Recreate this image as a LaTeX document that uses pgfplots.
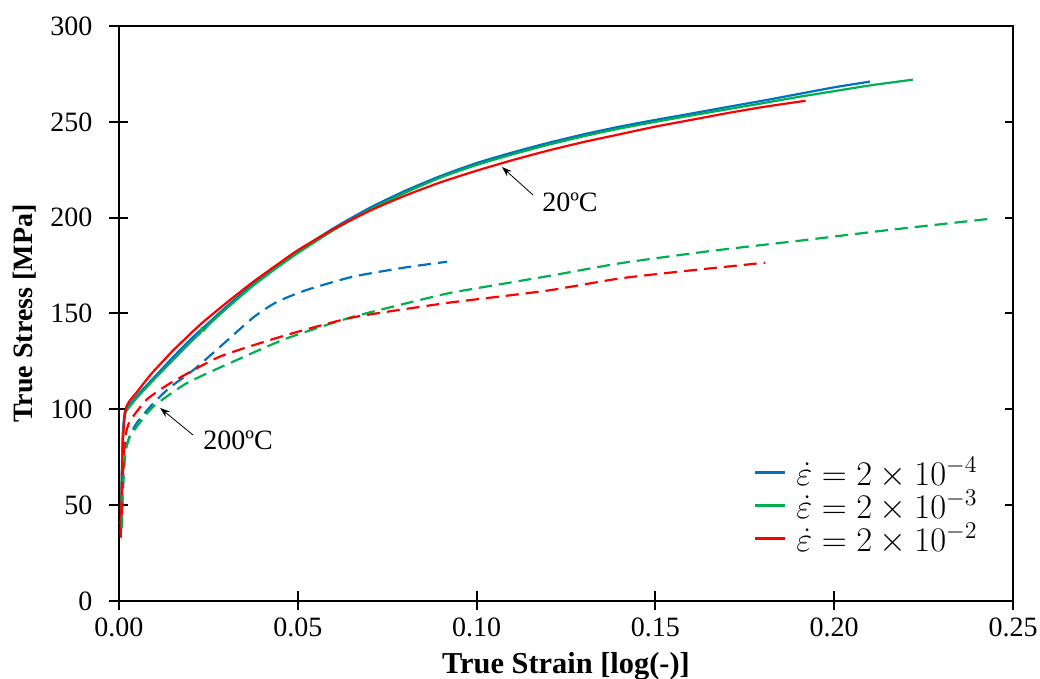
\documentclass[border=0pt]{standalone}
\usepackage{pgfplots}
\pgfplotsset{compat=1.18}
\usepackage{fontspec}
\setmainfont{Liberation Serif}
\usetikzlibrary{arrows.meta,calc}
\definecolor{xblue}{RGB}{0,112,192}
\definecolor{xgreen}{RGB}{0,176,80}
\definecolor{xred}{RGB}{255,0,0}
\newcommand{\fs}{\fontsize{14}{16.8}\selectfont}
\begin{document}
\begin{tikzpicture}
\begin{axis}[
  scale only axis, width=447pt, height=287.5pt,
  xmin=0, xmax=0.25, ymin=0, ymax=300,
  xtick={0,0.05,...,0.25}, ytick={0,50,...,300},
  xticklabel style={/pgf/number format/.cd, fixed, fixed zerofill, precision=2},
  yticklabel style={xshift=-5pt},
  /pgf/number format/assume math mode=true,
  tick label style={font=\fs},
  xtick pos=bottom, ytick pos=left,
  tick align=center, major tick length=9.5pt,
  axis line style={line width=1pt}, tick style={line width=1pt, black},
  xlabel={\textbf{True Strain [log(-)]}}, ylabel={\textbf{True Stress [MPa]}},
  xlabel style={font=\fontsize{15.2}{17}\selectfont, yshift=-1pt},
  ylabel style={font=\fs, yshift=0pt},
  legend style={at={(0.972,0.265)}, anchor=north east, draw=none, fill=none, font=\fontsize{16.5}{18}\selectfont, row sep=-3pt, legend cell align=left},
  legend image code/.code={\draw[#1, line width=1.2pt] (0pt,0pt) -- (15pt,0pt); \path (18pt,0pt);},
  every axis plot/.append style={line width=1.1pt, line join=round, smooth, tension=0.35},
  clip=false,
]
% 20C solid
\addplot[xblue] coordinates {(0.0005,40)(0.001,85)(0.0015,97)(0.002,100)(0.005,107)(0.01,117)(0.015,127)(0.02,136.5)(0.025,145)(0.03,153.5)(0.0375,165.5)(0.045,176)(0.05,182.5)(0.06,194.5)(0.07,205)(0.08,214)(0.09,221.8)(0.10,228.5)(0.11,234)(0.12,239)(0.13,243.5)(0.14,247.5)(0.15,251)(0.16,254.3)(0.17,257.7)(0.18,261)(0.19,264.5)(0.20,268)(0.21,271)};
\addlegendentry{$\dot{\varepsilon} = 2 \times 10^{-4}$}
\addplot[xgreen] coordinates {(0.0005,35)(0.001,80)(0.0015,95)(0.002,99)(0.005,106)(0.01,116)(0.015,125.5)(0.02,135)(0.0228,140)(0.0232,142.5)(0.0236,141)(0.025,144)(0.03,152.5)(0.0375,164.5)(0.045,175)(0.05,181.5)(0.06,193.5)(0.07,204)(0.08,213)(0.09,221)(0.10,227.5)(0.11,233)(0.12,238)(0.13,242.5)(0.14,246.5)(0.15,250)(0.16,253.3)(0.17,256.5)(0.18,259.7)(0.19,263)(0.20,266)(0.21,269)(0.222,272)};
\addlegendentry{$\dot{\varepsilon} = 2 \times 10^{-3}$}
\addplot[xred] coordinates {(0.0005,33)(0.0008,60)(0.001,80)(0.0015,95)(0.002,101)(0.003,104.5)(0.005,109)(0.0075,115)(0.0095,119.5)(0.012,124.5)(0.015,130.5)(0.02,139.5)(0.0235,145.5)(0.03,155.5)(0.0375,166.5)(0.045,176.5)(0.05,183)(0.06,194)(0.07,203.5)(0.08,211.5)(0.09,218.5)(0.10,224.5)(0.11,230)(0.12,235)(0.13,239.5)(0.14,243.5)(0.15,247.5)(0.16,251)(0.17,254.5)(0.18,257.7)(0.192,261)};
\addlegendentry{$\dot{\varepsilon} = 2 \times 10^{-2}$}
% 200C dashed
\addplot[xblue, dash pattern=on 6.5pt off 3.5pt] coordinates {(0.0008,38)(0.001,55)(0.0015,72)(0.002,80)(0.003,86)(0.005,93)(0.0095,103)(0.0143,111.5)(0.0208,120.5)(0.0282,132.5)(0.0376,148)(0.0441,156)(0.0525,162.3)(0.0654,169.2)(0.08,174)(0.0917,177)};
\addplot[xgreen, dash pattern=on 6.5pt off 3.5pt] coordinates {(0.0008,38)(0.001,55)(0.0015,72)(0.002,80)(0.0031,86)(0.005,91)(0.0096,101.4)(0.0189,113.6)(0.0329,125.7)(0.0469,137)(0.0655,148.3)(0.0898,159.6)(0.0982,162.6)(0.12,169.5)(0.1401,176.2)(0.165,182.5)(0.1904,188)(0.215,193.5)(0.244,199.5)};
\addplot[xred, dash pattern=on 6.5pt off 3.5pt] coordinates {(0.0008,45)(0.001,62)(0.0015,80)(0.002,88)(0.0031,94)(0.0077,105)(0.0143,113.6)(0.0282,127.5)(0.0469,138.8)(0.0655,148)(0.0898,155)(0.0982,157)(0.12,162)(0.1401,168.3)(0.16,172.5)(0.1807,176.5)};
% annotations
\draw[-{Stealth[length=5pt,width=3.5pt]}, line width=0.4pt] (axis cs:0.1158,211.8) -- (axis cs:0.1071,226.4);
\node[font=\fs] at (axis cs:0.1261,208) {20ºC};
\draw[-{Stealth[length=5pt,width=3.5pt]}, line width=0.4pt] (axis cs:0.0207,86.6) -- (axis cs:0.0115,100.7);
\node[font=\fs] at (axis cs:0.0333,84) {200ºC};
\coordinate (sw) at (rel axis cs:0,0);
\coordinate (ne) at (rel axis cs:1,1);
\end{axis}
% right and top box lines with inner ticks on right
\begin{axis}[
  scale only axis, width=447pt, height=287.5pt,
  xmin=0, xmax=0.25, ymin=0, ymax=300,
  axis x line*=top, axis y line*=right,
  xtick=\empty, ytick={0,50,...,300}, yticklabels={},
  tick align=inside, major tick length=4pt,
  axis line style={line width=1pt, -}, tick style={line width=1pt, black},
]
\end{axis}
\pgfresetboundingbox
\path[use as bounding box] ($(sw)+(-59.5pt,-39pt)$) rectangle ($(ne)+(13.5pt,13pt)$);
\end{tikzpicture}
\end{document}
